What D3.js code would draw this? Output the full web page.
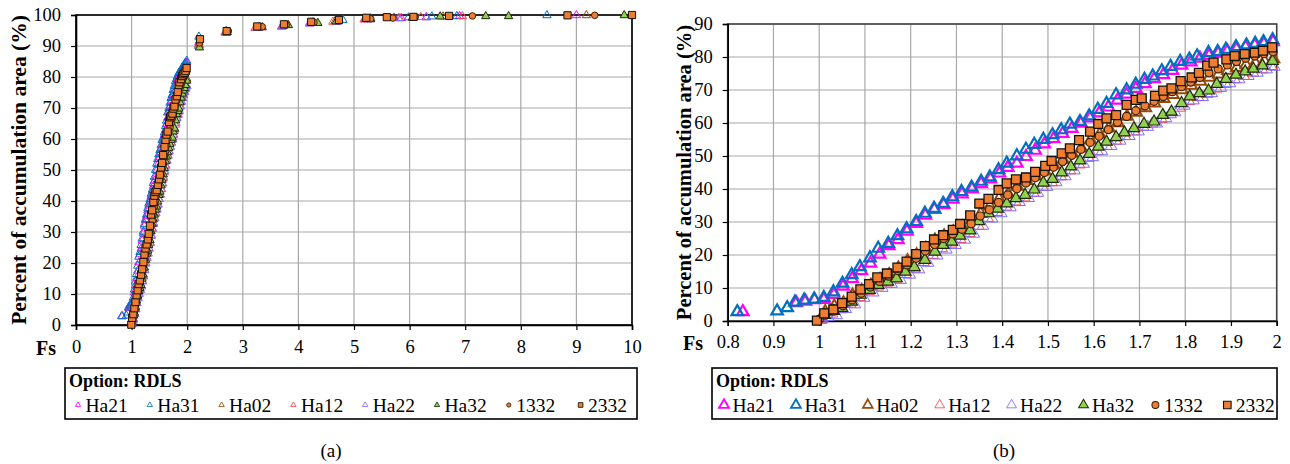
<!DOCTYPE html>
<html><head><meta charset="utf-8">
<script src="https://cdn.jsdelivr.net/npm/d3@7"></script>
<style>
body{margin:0;background:#fff}
svg{display:block}
text{font-family:"Liberation Serif","Times New Roman",serif;fill:#000}
</style>
</head><body>
<svg id="c" width="1290" height="464"></svg>
<script>
// ---------------- DATA ----------------
const seriesNames = ["Ha21","Ha31","Ha02","Ha12","Ha22","Ha32","1332","2332"];
const legendTitle = "Option: RDLS";
const xTicksA = [0,1,2,3,4,5,6,7,8,9,10];
const yTicksA = [0,10,20,30,40,50,60,70,80,90,100];
const xTicksB = [0.8,0.9,1,1.1,1.2,1.3,1.4,1.5,1.6,1.7,1.8,1.9,2];
const yTicksB = [0,10,20,30,40,50,60,70,80,90];

const ha21 = [[0.833,2.8],[0.95,5.5],[0.97,6.0],[0.99,6.4],[1.01,6.5],[1.032,8.0],[1.052,10.5],[1.072,12.8],[1.092,15.2],[1.112,17.5],[1.132,20.2],[1.152,22.8],[1.172,24.6],[1.192,27.2],[1.212,29.5],[1.232,32.0],[1.252,33.8],[1.272,35.2],[1.292,36.9],[1.312,38.5],[1.334,40.0],[1.354,41.6],[1.374,43.0],[1.394,44.8],[1.412,46.5],[1.432,47.8],[1.452,49.8],[1.472,51.7],[1.492,53.6],[1.512,55.2],[1.532,56.8],[1.552,58.3],[1.572,59.9],[1.592,61.5],[1.612,63.0],[1.632,64.8],[1.652,66.9],[1.672,68.7],[1.692,70.4],[1.712,71.9],[1.732,73.4],[1.752,74.6],[1.772,75.9],[1.792,77.5],[1.812,78.5],[1.832,79.6],[1.852,80.4],[1.872,81.1],[1.892,81.8],[1.912,82.4],[1.932,83.0],[1.952,83.5],[1.972,84.0],[1.992,84.6],
  [2.21,91.2],[2.7,94.4],[3.28,95.8],[3.7,96.3],[4.2,97.3],[4.7,97.9],[5.25,98.6],[5.85,99.0],[6.3,99.3],[6.9,99.6],[9.0,99.9]];
const ha31 = [[0.821,2.8],[0.908,3.0],[0.930,4.0],[0.947,5.7],[0.967,6.3],[0.989,6.6],[1.010,7.1],[1.031,8.8],[1.051,11.4],[1.071,14.0],[1.089,16.4],[1.111,19.1],[1.129,22.0],[1.151,23.5],[1.171,25.8],[1.191,27.9],[1.212,30.1],[1.231,32.6],[1.251,34.1],[1.271,35.6],[1.291,37.6],[1.311,39.2],[1.333,40.5],[1.354,42.3],[1.373,43.6],[1.392,45.8],[1.410,47.8],[1.432,50.0],[1.452,52.0],[1.470,53.5],[1.490,55.0],[1.510,56.4],[1.529,57.9],[1.548,59.6],[1.570,60.4],[1.590,62.1],[1.609,64.1],[1.628,65.9],[1.649,68.5],[1.672,70.0],[1.692,71.7],[1.711,73.2],[1.729,74.2],[1.749,75.8],[1.768,77.1],[1.789,78.6],[1.809,79.3],[1.826,80.3],[1.851,81.3],[1.871,81.6],[1.889,82.3],[1.911,83.1],[1.934,83.6],[1.953,84.1],[1.971,84.6],[1.991,85.2],
  [2.21,93.0],[2.7,94.8],[3.27,96.0],[3.76,96.8],[4.26,97.6],[4.8,98.4],[5.3,98.9],[5.98,99.2],[6.4,99.5],[6.85,99.6],[8.47,99.9]];
const ha02 = [[1.005,1.0],[1.013,2.8],[1.033,4.5],[1.053,5.5],[1.073,7.8],[1.093,9.2],[1.113,10.8],[1.133,12.5],[1.153,14.0],[1.173,16.0],[1.193,18.2],[1.213,20.0],[1.233,22.0],[1.253,24.5],[1.273,25.8],[1.293,27.0],[1.313,28.5],[1.333,30.6],[1.353,32.5],[1.373,34.8],[1.393,37.0],[1.413,38.5],[1.433,40.8],[1.453,42.5],[1.473,43.9],[1.493,45.4],[1.513,47.2],[1.533,48.9],[1.553,50.8],[1.573,52.4],[1.593,54.8],[1.613,56.6],[1.633,58.4],[1.653,60.0],[1.673,62.0],[1.693,63.2],[1.713,64.6],[1.733,66.0],[1.753,67.4],[1.773,68.6],[1.793,70.0],[1.813,71.4],[1.833,72.6],[1.853,73.8],[1.873,74.8],[1.893,75.9],[1.913,76.8],[1.933,77.6],[1.953,78.2],[1.973,78.8],[1.993,79.4],
  [2.21,90.6],[2.7,94.6],[3.3,96.1],[3.72,96.6],[4.25,97.5],[4.66,98.0],[5.2,98.8],[5.72,99.1],[6.6,99.5],[9.18,99.9]];
const ha12 = [[1.006,0.5],[1.028,2.2],[1.048,3.5],[1.068,5.2],[1.088,7.2],[1.108,9.0],[1.128,10.4],[1.148,11.6],[1.168,12.8],[1.188,14.2],[1.208,15.8],[1.228,17.8],[1.248,20.0],[1.268,22.0],[1.288,23.4],[1.308,24.8],[1.328,26.6],[1.348,28.8],[1.368,31.2],[1.388,33.0],[1.408,34.6],[1.428,36.2],[1.448,37.4],[1.468,38.8],[1.488,40.6],[1.508,42.0],[1.528,43.8],[1.548,45.6],[1.568,47.4],[1.588,49.4],[1.608,51.4],[1.628,53.0],[1.648,54.6],[1.668,56.0],[1.688,57.4],[1.708,58.8],[1.728,59.8],[1.748,61.2],[1.768,62.6],[1.788,64.6],[1.808,66.6],[1.828,67.8],[1.848,68.8],[1.868,70.4],[1.888,71.8],[1.908,73.2],[1.928,74.2],[1.948,75.2],[1.968,76.2],[1.988,77.2],
  [2.22,90.2],[2.68,94.3],[3.22,95.8],[3.7,96.2],[4.22,97.4],[4.62,97.8],[5.18,98.5],[5.82,98.9],[6.2,99.3],[6.95,99.6]];
const ha22 = [[1.004,0.3],[1.020,1.2],[1.038,1.7],[1.058,3.6],[1.078,5.0],[1.098,7.0],[1.118,8.6],[1.138,10.0],[1.158,11.2],[1.178,12.4],[1.198,14.0],[1.218,15.6],[1.238,17.6],[1.258,19.8],[1.278,21.6],[1.298,23.0],[1.318,24.6],[1.338,26.4],[1.358,28.8],[1.378,31.0],[1.398,32.6],[1.418,34.4],[1.438,36.0],[1.458,37.2],[1.478,38.8],[1.498,40.6],[1.518,42.0],[1.538,43.8],[1.558,45.6],[1.578,47.6],[1.598,49.6],[1.618,51.4],[1.638,53.0],[1.658,54.6],[1.678,56.0],[1.698,57.4],[1.718,58.8],[1.738,59.8],[1.758,61.4],[1.778,63.2],[1.798,65.2],[1.818,66.8],[1.838,67.8],[1.858,69.0],[1.878,70.6],[1.898,72.0],[1.918,73.2],[1.938,74.2],[1.958,75.2],[1.978,76.2],[1.995,77.0],
  [2.2,90.0],[2.7,94.2],[3.25,95.9],[3.72,96.4],[4.2,97.2],[4.7,97.8],[5.2,98.6],[5.8,99.0],[6.3,99.2]];
const ha32 = [[1.012,1.8],[1.032,3.0],[1.050,3.9],[1.071,5.8],[1.090,7.9],[1.110,9.4],[1.129,10.9],[1.150,11.9],[1.169,12.9],[1.188,14.9],[1.208,16.3],[1.231,18.5],[1.253,21.0],[1.271,23.0],[1.290,24.0],[1.308,25.8],[1.330,27.4],[1.349,30.2],[1.370,32.6],[1.390,34.0],[1.410,35.6],[1.430,37.2],[1.450,38.2],[1.470,39.8],[1.490,41.9],[1.510,43.0],[1.530,45.0],[1.550,46.8],[1.570,48.6],[1.590,50.6],[1.610,52.8],[1.628,54.3],[1.649,55.7],[1.667,57.1],[1.688,58.4],[1.710,59.7],[1.732,60.4],[1.751,62.4],[1.770,63.4],[1.792,66.0],[1.810,68.0],[1.831,69.0],[1.851,69.8],[1.869,71.8],[1.889,73.3],[1.911,74.6],[1.931,75.6],[1.949,76.4],[1.969,77.4],[1.991,78.8],
  [2.22,89.5],[2.72,94.4],[3.35,96.0],[3.82,96.7],[4.35,97.4],[4.68,97.9],[5.3,98.6],[6.05,99.1],[6.55,99.5],[7.37,99.6],[7.78,99.6],[9.86,99.9]];
const s1332 = [[1.0,0.5],[1.012,1.8],[1.032,3.0],[1.052,4.6],[1.072,6.4],[1.092,8.4],[1.112,10.3],[1.132,12.0],[1.152,13.6],[1.172,15.3],[1.192,17.0],[1.212,19.0],[1.232,21.2],[1.252,23.2],[1.272,25.0],[1.292,26.4],[1.312,27.8],[1.332,29.5],[1.352,31.8],[1.372,33.7],[1.392,35.9],[1.412,38.2],[1.432,40.1],[1.452,41.8],[1.472,43.4],[1.492,45.0],[1.512,46.6],[1.532,48.3],[1.552,50.2],[1.572,52.0],[1.592,54.1],[1.612,56.0],[1.632,58.0],[1.652,60.2],[1.672,62.0],[1.692,63.7],[1.712,65.2],[1.732,66.6],[1.752,68.0],[1.772,69.5],[1.792,71.0],[1.812,72.4],[1.832,73.8],[1.852,75.2],[1.872,76.4],[1.892,77.6],[1.912,78.6],[1.932,79.6],[1.952,80.3],[1.972,81.0],[1.992,81.6],
  [2.22,91.0],[2.74,94.8],[3.35,96.2],[3.78,96.8],[4.28,97.6],[4.72,98.2],[5.3,98.8],[5.7,99.0],[6.1,99.3],[7.13,99.7],[9.33,99.9]];
const s2332 = [[0.995,0.1],[1.011,2.3],[1.031,3.5],[1.050,5.4],[1.071,7.4],[1.090,9.6],[1.109,11.2],[1.127,13.2],[1.148,14.4],[1.171,16.2],[1.191,18.0],[1.212,20.3],[1.231,22.7],[1.251,24.7],[1.271,26.0],[1.292,27.6],[1.308,29.4],[1.330,32.0],[1.350,35.6],[1.370,37.0],[1.392,39.7],[1.410,41.7],[1.430,42.9],[1.452,43.5],[1.472,45.2],[1.494,47.0],[1.508,48.5],[1.530,50.8],[1.548,52.3],[1.568,54.8],[1.592,57.4],[1.610,59.7],[1.628,61.4],[1.649,62.4],[1.672,65.5],[1.692,67.0],[1.705,67.5],[1.734,68.2],[1.752,69.8],[1.770,70.5],[1.790,72.7],[1.814,73.8],[1.830,75.2],[1.848,77.4],[1.862,78.3],[1.890,79.3],[1.908,80.3],[1.930,80.9],[1.952,81.3],[1.970,81.9],[1.990,82.9],
  [2.23,92.2],[2.71,94.8],[3.26,96.3],[3.74,97.0],[4.23,97.8],[4.73,98.4],[5.22,99.1],[5.59,99.3],[6.07,99.4],[6.71,99.7],[8.84,99.9],[10.0,100.0]];

const seriesData = [ha21, ha31, ha02, ha12, ha22, ha32, s1332, s2332];

// ---------------- STYLES ----------------
const styles = [
  {shape:"tri", stroke:"#ff00ff", fill:"none", wB:2.2},
  {shape:"tri", stroke:"#0070c0", fill:"none", wB:2.2},
  {shape:"tri", stroke:"#984807", fill:"none", wB:2.0},
  {shape:"tri", stroke:"#ff4545", fill:"none", wB:1.0},
  {shape:"tri", stroke:"#7a6cff", fill:"none", wB:1.0},
  {shape:"tri", stroke:"#1f2a10", fill:"#92d050", wB:1.2},
  {shape:"circ", stroke:"#3a2008", fill:"#ed7d31", wB:1.2},
  {shape:"sq", stroke:"#111", fill:"#ed7d31", wB:1.3}
];

const svg = d3.select("#c");
const FONT = '"Liberation Serif","Times New Roman",serif';

function symPath(shape, big) {
  if (shape === "tri") return d3.symbol(d3.symbolTriangle, big ? 58 : 30)();
  if (shape === "circ") return d3.symbol(d3.symbolCircle, big ? 52 : 34)();
  return d3.symbol(d3.symbolSquare, big ? 80 : 52)();
}

function panel(cfg) {
  const g = svg.append("g");
  const x = d3.scaleLinear().domain(cfg.xDom).range([cfg.L, cfg.R]);
  const y = d3.scaleLinear().domain(cfg.yDom).range([cfg.B, cfg.T]);
  // grid
  g.append("g").selectAll("line").data(cfg.xTicks).join("line")
    .attr("x1", d => x(d)).attr("x2", d => x(d)).attr("y1", cfg.T).attr("y2", cfg.B)
    .attr("stroke", "#a8a8a8").attr("stroke-width", 1.2);
  g.append("g").selectAll("line").data(cfg.yTicks).join("line")
    .attr("x1", cfg.L).attr("x2", cfg.R).attr("y1", d => y(d)).attr("y2", d => y(d))
    .attr("stroke", "#a8a8a8").attr("stroke-width", 1.2);
  // frame
  g.append("rect").attr("x", cfg.L).attr("y", cfg.T).attr("width", cfg.R - cfg.L).attr("height", cfg.B - cfg.T)
    .attr("fill", "none").attr("stroke", cfg.frame).attr("stroke-width", 1.6);
  // axes
  const xa = g.append("g").attr("transform", `translate(0,${cfg.B})`)
    .call(d3.axisBottom(x).tickValues(cfg.xTicks).tickSize(5).tickPadding(cfg.xPad).tickFormat(d => String(d)));
  const ya = g.append("g").attr("transform", `translate(${cfg.L},0)`)
    .call(d3.axisLeft(y).tickValues(cfg.yTicks).tickSize(5).tickPadding(10).tickFormat(d => String(d)));
  [xa, ya].forEach(a => {
    a.select(".domain").attr("stroke", "#000").attr("stroke-width", 1.6);
    a.selectAll(".tick line").attr("stroke", "#000").attr("stroke-width", 1.2);
    a.selectAll("text").attr("font-family", FONT).attr("font-size", 18.5).attr("fill", "#000");
  });
  // points
  const big = cfg.big;
  seriesData.forEach((data, i) => {
    const st = styles[i];
    const pts = data.filter(d => d[0] >= cfg.xDom[0] - 1e-9 && d[0] <= cfg.xDom[1] + 1e-9);
    g.append("g").selectAll("path").data(pts).join("path")
      .attr("d", symPath(st.shape, big))
      .attr("transform", d => `translate(${x(d[0])},${y(d[1])})`)
      .attr("fill", st.fill).attr("stroke", st.stroke)
      .attr("stroke-width", big ? st.wB : 1);
  });
  // y title
  svg.append("text").attr("transform", `translate(${cfg.titleX},${(cfg.T + cfg.B) / 2}) rotate(-90)`)
    .attr("text-anchor", "middle").attr("font-weight", "bold").attr("font-size", cfg.titleSize)
    .attr("font-family", FONT).text("Percent of accumulation area (%)");
  // Fs
  svg.append("text").attr("x", cfg.fsX).attr("y", cfg.B + cfg.fsDy).attr("font-weight", "bold")
    .attr("font-size", 20).attr("font-family", FONT).text("Fs");
  // legend
  const lg = svg.append("g");
  lg.append("rect").attr("x", cfg.lgX).attr("y", 368).attr("width", cfg.lgW).attr("height", 51)
    .attr("fill", "#fff").attr("stroke", "#000").attr("stroke-width", 1.6);
  lg.append("text").attr("x", cfg.lgX + 4).attr("y", 387).attr("font-weight", "bold")
    .attr("font-size", 18).attr("font-family", FONT).text(legendTitle);
  seriesNames.forEach((n, i) => {
    const st = styles[i];
    const mx = cfg.lgM0 + i * cfg.lgStep;
    lg.append("path").attr("d", symPath(st.shape, big))
      .attr("transform", `translate(${mx},${405}) scale(${big ? 0.85 : 0.65})`)
      .attr("fill", st.fill).attr("stroke", st.stroke).attr("stroke-width", big ? st.wB : 1.3);
    lg.append("text").attr("x", mx + (big ? 8.5 : 7.5)).attr("y", 411.5)
      .attr("font-size", 19.5).attr("font-family", FONT).text(n);
  });
  svg.append("text").attr("x", cfg.capX).attr("y", 457).attr("text-anchor", "middle")
    .attr("font-size", 19).attr("font-family", FONT).text(cfg.cap);
}

panel({L:76, R:632, T:15, B:325, xDom:[0,10], yDom:[0,100], xTicks:xTicksA, yTicks:yTicksA, xPad:10,
  frame:"#000", big:false, titleX:26, titleSize:21.5, fsX:36, fsDy:30, lgX:65, lgW:572, lgM0:78, lgStep:71.8, capX:331, cap:"(a)"});
panel({L:727.7, R:1276.7, T:24, B:321, xDom:[0.8,2], yDom:[0,90], xTicks:xTicksB, yTicks:yTicksB, xPad:9,
  frame:"#444", big:true, titleX:691, titleSize:20.5, fsX:683, fsDy:29, lgX:712, lgW:565, lgM0:724, lgStep:71.9, capX:1004, cap:"(b)"});
</script>
</body></html>
